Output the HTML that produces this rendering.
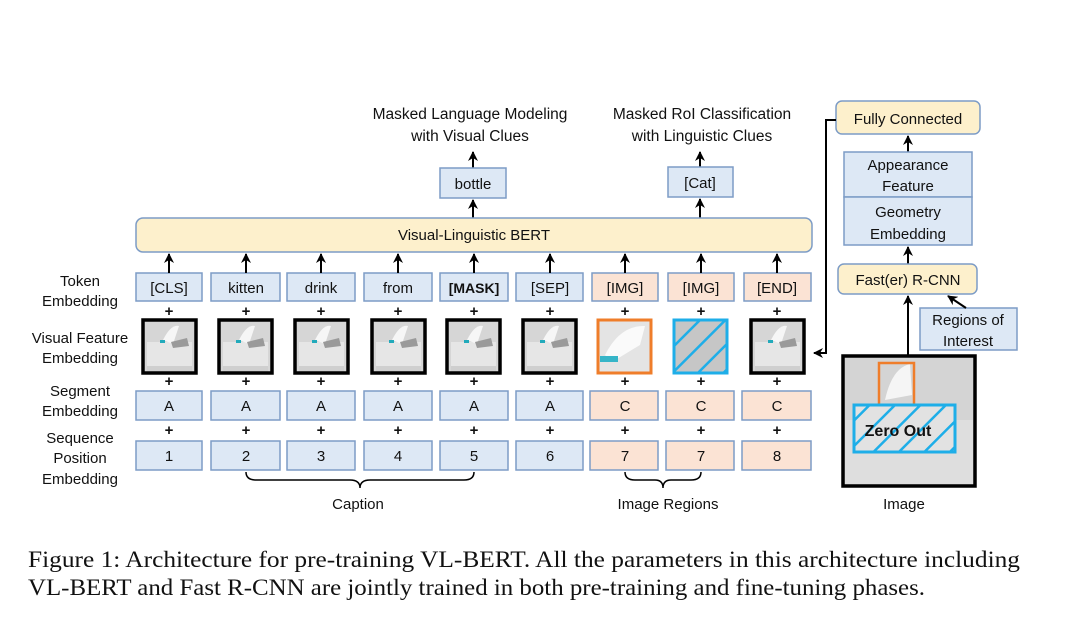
<!DOCTYPE html>
<html><head><meta charset="utf-8"><style>
html,body{margin:0;padding:0;background:#fff;width:1080px;height:630px;overflow:hidden}
svg{display:block}
text{font-family:"Liberation Sans",sans-serif;fill:#111}
.lb{font-size:15px;text-anchor:middle}
.bx{fill:#dde8f5;stroke:#7d9cc6;stroke-width:1.5}
.pk{fill:#fbe3d4;stroke:#7d9cc6;stroke-width:1.5}
.yl{fill:#fdf0cc;stroke:#7d9cc6;stroke-width:1.5}
.ar{stroke:#000;stroke-width:2;fill:none;marker-end:url(#ah)}
.pl{font-size:15px;font-weight:bold;text-anchor:middle}
.fr{fill:none;stroke:#000;stroke-width:3.5}
</style></head><body>
<svg width="1080" height="630" viewBox="0 0 1080 630" xmlns="http://www.w3.org/2000/svg">
<defs>
<marker id="ah" viewBox="0 0 10 10" refX="9" refY="5" markerWidth="5" markerHeight="5" orient="auto"><path d="M0,0 L10,5 L0,10 L3,5 z" fill="#000"/></marker>
<pattern id="hat" patternUnits="userSpaceOnUse" width="18" height="18" patternTransform="rotate(-45)"><rect width="18" height="18" fill="none"/><line x1="0" y1="0" x2="18" y2="0" stroke="#1eaee8" stroke-width="5"/></pattern>
<g id="img" stroke="none"><rect width="53" height="53" fill="#d6d6d6"/><rect x="4" y="22" width="45" height="24" fill="#e6e6e6"/><rect x="4" y="46" width="45" height="7" fill="#cfcfcf"/><path d="M20,20 Q28,4 36,6 L30,24 z" fill="#f6f6f6"/><path d="M28,22 L44,18 L46,26 L30,28 z" fill="#9a9a9a"/><rect x="17" y="20" width="5" height="3" fill="#2ab"/></g>
</defs>

<text class="lb" x="470" y="119" style="font-size:15.5px">Masked Language Modeling</text>
<text class="lb" x="470" y="141" style="font-size:15.5px">with Visual Clues</text>
<text class="lb" x="702" y="119" style="font-size:15.5px">Masked RoI Classification</text>
<text class="lb" x="702" y="141" style="font-size:15.5px">with Linguistic Clues</text>
<line class="ar" x1="473" y1="168" x2="473" y2="152"/>
<line class="ar" x1="700" y1="167" x2="700" y2="152"/>
<rect class="bx" x="440" y="168" width="66" height="30"/><text class="lb" x="473" y="189">bottle</text>
<rect class="bx" x="668" y="167" width="65" height="30"/><text class="lb" x="700" y="188">[Cat]</text>
<line class="ar" x1="473" y1="218" x2="473" y2="200"/>
<line class="ar" x1="700" y1="218" x2="700" y2="199"/>

<rect class="yl" x="136" y="218" width="676" height="34" rx="7"/>
<text class="lb" x="474" y="240">Visual-Linguistic BERT</text>

<text class="lb" x="80" y="286">Token</text><text class="lb" x="80" y="306">Embedding</text>
<text class="lb" x="80" y="343">Visual Feature</text><text class="lb" x="80" y="363">Embedding</text>
<text class="lb" x="80" y="396">Segment</text><text class="lb" x="80" y="416">Embedding</text>
<text class="lb" x="80" y="443">Sequence</text><text class="lb" x="80" y="463">Position</text><text class="lb" x="80" y="484">Embedding</text>

<rect class="bx" x="136" y="273" width="66" height="28"/><text class="lb" x="169" y="293">[CLS]</text>
<rect class="bx" x="211" y="273" width="69" height="28"/><text class="lb" x="246" y="293">kitten</text>
<rect class="bx" x="287" y="273" width="68" height="28"/><text class="lb" x="321" y="293">drink</text>
<rect class="bx" x="364" y="273" width="68" height="28"/><text class="lb" x="398" y="293">from</text>
<rect class="bx" x="440" y="273" width="68" height="28"/><text class="lb" x="474" y="293" style="font-weight:bold;font-size:14px">[MASK]</text>
<rect class="bx" x="516" y="273" width="67" height="28"/><text class="lb" x="550" y="293">[SEP]</text>
<rect class="pk" x="592" y="273" width="66" height="28"/><text class="lb" x="625" y="293">[IMG]</text>
<rect class="pk" x="668" y="273" width="66" height="28"/><text class="lb" x="701" y="293">[IMG]</text>
<rect class="pk" x="744" y="273" width="67" height="28"/><text class="lb" x="777" y="293">[END]</text>

<line class="ar" x1="169" y1="273" x2="169" y2="254"/><line class="ar" x1="246" y1="273" x2="246" y2="254"/>
<line class="ar" x1="321" y1="273" x2="321" y2="254"/><line class="ar" x1="398" y1="273" x2="398" y2="254"/>
<line class="ar" x1="474" y1="273" x2="474" y2="254"/><line class="ar" x1="550" y1="273" x2="550" y2="254"/>
<line class="ar" x1="625" y1="273" x2="625" y2="254"/><line class="ar" x1="701" y1="273" x2="701" y2="254"/>
<line class="ar" x1="777" y1="273" x2="777" y2="254"/>

<text class="pl" x="169" y="316">+</text><text class="pl" x="246" y="316">+</text><text class="pl" x="321" y="316">+</text><text class="pl" x="398" y="316">+</text><text class="pl" x="474" y="316">+</text><text class="pl" x="550" y="316">+</text><text class="pl" x="625" y="316">+</text><text class="pl" x="701" y="316">+</text><text class="pl" x="777" y="316">+</text>
<text class="pl" x="169" y="386">+</text><text class="pl" x="246" y="386">+</text><text class="pl" x="321" y="386">+</text><text class="pl" x="398" y="386">+</text><text class="pl" x="474" y="386">+</text><text class="pl" x="550" y="386">+</text><text class="pl" x="625" y="386">+</text><text class="pl" x="701" y="386">+</text><text class="pl" x="777" y="386">+</text>
<text class="pl" x="169" y="435">+</text><text class="pl" x="246" y="435">+</text><text class="pl" x="321" y="435">+</text><text class="pl" x="398" y="435">+</text><text class="pl" x="474" y="435">+</text><text class="pl" x="550" y="435">+</text><text class="pl" x="625" y="435">+</text><text class="pl" x="701" y="435">+</text><text class="pl" x="777" y="435">+</text>

<use href="#img" x="143" y="320"/><rect class="fr" x="143" y="320" width="53" height="53"/>
<use href="#img" x="219" y="320"/><rect class="fr" x="219" y="320" width="53" height="53"/>
<use href="#img" x="295" y="320"/><rect class="fr" x="295" y="320" width="53" height="53"/>
<use href="#img" x="372" y="320"/><rect class="fr" x="372" y="320" width="53" height="53"/>
<use href="#img" x="447" y="320"/><rect class="fr" x="447" y="320" width="53" height="53"/>
<use href="#img" x="523" y="320"/><rect class="fr" x="523" y="320" width="53" height="53"/>
<use href="#img" x="751" y="320"/><rect class="fr" x="751" y="320" width="53" height="53"/>

<rect x="598" y="320" width="53" height="53" fill="#e4e4e4"/>
<path d="M605,355 Q620,325 645,326 L640,345 L612,362 z" fill="#fafafa"/>
<rect x="600" y="356" width="18" height="6" fill="#36b5c8"/>
<rect x="598" y="320" width="53" height="53" fill="none" stroke="#ef7d2a" stroke-width="3"/>
<rect x="674" y="320" width="53" height="53" fill="#c6c6c6"/>
<rect x="674" y="320" width="53" height="53" fill="url(#hat)" stroke="#1eaee8" stroke-width="3"/>

<rect class="bx" x="136" y="391" width="66" height="29"/><text class="lb" x="169" y="411">A</text>
<rect class="bx" x="211" y="391" width="69" height="29"/><text class="lb" x="246" y="411">A</text>
<rect class="bx" x="287" y="391" width="68" height="29"/><text class="lb" x="321" y="411">A</text>
<rect class="bx" x="364" y="391" width="68" height="29"/><text class="lb" x="398" y="411">A</text>
<rect class="bx" x="440" y="391" width="68" height="29"/><text class="lb" x="474" y="411">A</text>
<rect class="bx" x="516" y="391" width="67" height="29"/><text class="lb" x="550" y="411">A</text>
<rect class="pk" x="590" y="391" width="68" height="29"/><text class="lb" x="625" y="411">C</text>
<rect class="pk" x="666" y="391" width="68" height="29"/><text class="lb" x="701" y="411">C</text>
<rect class="pk" x="742" y="391" width="69" height="29"/><text class="lb" x="777" y="411">C</text>

<rect class="bx" x="136" y="441" width="66" height="29"/><text class="lb" x="169" y="461">1</text>
<rect class="bx" x="211" y="441" width="69" height="29"/><text class="lb" x="246" y="461">2</text>
<rect class="bx" x="287" y="441" width="68" height="29"/><text class="lb" x="321" y="461">3</text>
<rect class="bx" x="364" y="441" width="68" height="29"/><text class="lb" x="398" y="461">4</text>
<rect class="bx" x="440" y="441" width="68" height="29"/><text class="lb" x="474" y="461">5</text>
<rect class="bx" x="516" y="441" width="67" height="29"/><text class="lb" x="550" y="461">6</text>
<rect class="pk" x="590" y="441" width="68" height="29"/><text class="lb" x="625" y="461">7</text>
<rect class="pk" x="666" y="441" width="68" height="29"/><text class="lb" x="701" y="461">7</text>
<rect class="pk" x="742" y="441" width="69" height="29"/><text class="lb" x="777" y="461">8</text>

<path d="M246,472 Q246,480 256,480 L350,480 Q360,480 360,488 Q360,480 370,480 L464,480 Q474,480 474,472" fill="none" stroke="#000" stroke-width="1.5"/>
<path d="M625,472 Q625,480 635,480 L655,480 Q663,480 663,488 Q663,480 671,480 L691,480 Q701,480 701,472" fill="none" stroke="#000" stroke-width="1.5"/>
<text class="lb" x="358" y="509">Caption</text>
<text class="lb" x="668" y="509">Image Regions</text>

<rect class="yl" x="836" y="101" width="144" height="33" rx="6"/><text class="lb" x="908" y="124">Fully Connected</text>
<line class="ar" x1="908" y1="152" x2="908" y2="136"/>
<rect class="bx" x="844" y="152" width="128" height="45"/><text class="lb" x="908" y="170">Appearance</text><text class="lb" x="908" y="191">Feature</text>
<rect class="bx" x="844" y="197" width="128" height="48"/><text class="lb" x="908" y="217">Geometry</text><text class="lb" x="908" y="239">Embedding</text>
<line class="ar" x1="908" y1="264" x2="908" y2="247"/>
<rect class="yl" x="838" y="264" width="139" height="30" rx="6"/><text class="lb" x="908" y="285">Fast(er) R-CNN</text>
<rect class="bx" x="920" y="308" width="97" height="42"/><text class="lb" x="968" y="325">Regions of</text><text class="lb" x="968" y="346">Interest</text>
<line class="ar" x1="966" y1="308" x2="948" y2="296"/>
<line class="ar" x1="908" y1="356" x2="908" y2="296"/>
<polyline class="ar" points="836,120 826,120 826,353 814,353"/>

<rect x="843" y="356" width="132" height="130" fill="#d4d4d4"/>
<rect x="845" y="420" width="128" height="64" fill="#dedede"/>
<path d="M885,400 Q892,368 910,364 L912,395 z" fill="#f5f5f5"/>
<rect x="843" y="356" width="132" height="130" fill="none" stroke="#000" stroke-width="3.5"/>
<rect x="879" y="363" width="35" height="43" fill="none" stroke="#ef7d2a" stroke-width="2.5"/>
<rect x="854" y="405" width="101" height="47" fill="#e2e2e2"/>
<rect x="854" y="405" width="101" height="47" fill="url(#hat)" stroke="#1eaee8" stroke-width="3"/>
<text x="898" y="436" style="font-size:16px;font-weight:bold;text-anchor:middle">Zero Out</text>
<text class="lb" x="904" y="509">Image</text>

<text x="28" y="567" textLength="992" lengthAdjust="spacingAndGlyphs" style="font-family:'Liberation Serif',serif;font-size:23px">Figure 1: Architecture for pre-training VL-BERT. All the parameters in this architecture including</text>
<text x="28" y="595" textLength="897" lengthAdjust="spacingAndGlyphs" style="font-family:'Liberation Serif',serif;font-size:23px">VL-BERT and Fast R-CNN are jointly trained in both pre-training and fine-tuning phases.</text>
</svg>
</body></html>
